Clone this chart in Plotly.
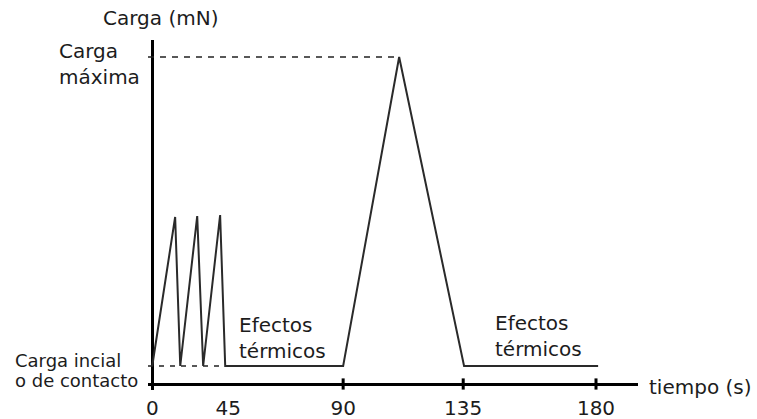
import plotly.graph_objects as go

# Load-time profile of the indentation test (schematic units: seconds / relative load)
time_s = [0, 10.8, 13.2, 21.2, 24.0, 32.0, 34.4, 90.0, 116.4, 147.0, 210.2]
load = [18, 167, 18, 168, 18, 169, 18, 18, 327, 18, 18]

contact_load = 18
max_load = 327
max_load_time = 116.4
cycles_end_time = 34.4

tick_pos = [0, 35.8, 90, 146.6, 209.2]
tick_labels = ["0", "45", "90", "135", "180"]
tick_marks = [90, 146.6, 209.2]

X_RANGE = [-2, 229]
Y_RANGE = [-6, 344]

TXT = "#1c1c1c"
FONT = "DejaVu Sans"


def px(v):
    return (v - X_RANGE[0]) / (X_RANGE[1] - X_RANGE[0])


def py(v):
    return (v - Y_RANGE[0]) / (Y_RANGE[1] - Y_RANGE[0])


fig = go.Figure()

# reference levels (dashed)
fig.add_trace(go.Scatter(
    x=[-2, max_load_time], y=[max_load, max_load], mode="lines",
    line=dict(color="#222", width=1.6, dash="6px,6px"), hoverinfo="skip"))
fig.add_trace(go.Scatter(
    x=[-2, cycles_end_time], y=[contact_load, contact_load], mode="lines",
    line=dict(color="#222", width=1.6, dash="5px,6px"), hoverinfo="skip"))

# load curve
fig.add_trace(go.Scatter(
    x=time_s, y=load, mode="lines",
    line=dict(color="#2a2a2a", width=2), hoverinfo="skip"))

# tick marks on the time axis
fig.add_trace(go.Scatter(
    x=tick_marks, y=[0] * len(tick_marks), mode="markers",
    marker=dict(symbol="line-ns", size=8, line=dict(color="black", width=3)),
    hoverinfo="skip"))

ann = [
    dict(text="Carga (mN)", x=3.8, y=366, xanchor="center", size=20),
    dict(text="Carga<br>máxima", x=-44.8, y=319.5, xanchor="left", size=20),
    dict(text="Carga incial", x=-65.5, y=24, xanchor="left", size=18),
    dict(text="o de contacto", x=-65.5, y=4, xanchor="left", size=18),
    dict(text="Efectos<br>térmicos", x=40.1, y=46.5, xanchor="left", size=20),
    dict(text="Efectos<br>térmicos", x=160.7, y=48.5, xanchor="left", size=20),
    dict(text="tiempo (s)", x=233.3, y=-3, xanchor="left", size=20),
]
for a in ann:
    fig.add_annotation(
        text=a["text"], x=px(a["x"]), y=py(a["y"]), xref="paper", yref="paper",
        xanchor=a["xanchor"], yanchor="middle", align="left", showarrow=False,
        font=dict(family=FONT, size=a["size"], color=TXT))

fig.update_layout(
    width=757, height=419,
    margin=dict(l=147.76, r=119.04, t=40, b=29),
    paper_bgcolor="white", plot_bgcolor="white",
    showlegend=False,
    xaxis=dict(range=X_RANGE, showgrid=False, showline=False, automargin=False,
               zeroline=True, zerolinecolor="black", zerolinewidth=3,
               tickvals=tick_pos, ticktext=tick_labels, ticks="",
               ticklabelstandoff=4,
               tickfont=dict(family=FONT, size=20, color=TXT)),
    yaxis=dict(range=Y_RANGE, showgrid=False, showline=False, automargin=False,
               zeroline=True, zerolinecolor="black", zerolinewidth=3,
               showticklabels=False, ticks=""),
)

fig.write_html("out.html")
